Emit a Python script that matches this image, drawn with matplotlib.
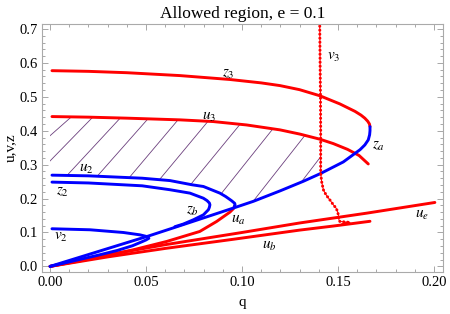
import matplotlib
matplotlib.use('Agg')
import matplotlib.pyplot as plt
import numpy as np
from matplotlib.patches import Polygon
from matplotlib.ticker import MultipleLocator

plt.rcParams['font.family'] = ['Liberation Serif', 'DejaVu Serif']
plt.rcParams['mathtext.fontset'] = 'stix'

# branches, as (q, value)
z3_q = [0.001, 0.02, 0.04, 0.0677, 0.0937, 0.11, 0.1198, 0.130, 0.1406, 0.151, 0.1589, 0.162, 0.164, 0.1655,
        0.1664, 0.1667]
z3_y = [0.577, 0.575, 0.571, 0.5625, 0.551, 0.541, 0.533, 0.521, 0.503, 0.479, 0.457, 0.446, 0.437, 0.428,
        0.420, 0.412]

u3_q = [0.001, 0.02, 0.04, 0.0677, 0.085, 0.1024, 0.1198, 0.1302, 0.1406, 0.1476, 0.155, 0.161, 0.1658]
u3_y = [0.4417, 0.440, 0.437, 0.432, 0.427, 0.417, 0.4025, 0.390, 0.375, 0.362, 0.345, 0.327, 0.302]

# blue branch from the origin up to the fold of z3 (za)
za_q = [0.0, 0.02, 0.04, 0.0515, 0.065, 0.08, 0.0955, 0.106, 0.12, 0.132, 0.141, 0.1528, 0.1615,
        0.164, 0.1658, 0.1665, 0.1667, 0.1667]
za_y = [0.0, 0.035, 0.07, 0.09, 0.115, 0.143, 0.172, 0.192, 0.223, 0.251, 0.274, 0.308, 0.344,
        0.358, 0.373, 0.388, 0.400, 0.412]

u2_q = [0.001, 0.02, 0.048, 0.0625, 0.074, 0.0799, 0.0885, 0.0915, 0.0945, 0.0962, 0.0964, 0.096]
u2_y = [0.269, 0.267, 0.260, 0.253, 0.2406, 0.2356, 0.216, 0.206, 0.194, 0.186, 0.1817, 0.176]

z2_q = [0.001, 0.02, 0.048, 0.0625, 0.0729, 0.0799, 0.0818, 0.0830, 0.0833, 0.0830, 0.0825, 0.0799, 0.0747,
        0.0694, 0.065]
z2_y = [0.2485, 0.246, 0.2376, 0.226, 0.216, 0.201, 0.194, 0.187, 0.1817, 0.174, 0.167, 0.152, 0.1375,
        0.1248, 0.117]

v2_q = [0.001, 0.0208, 0.0382, 0.0469, 0.0505, 0.0515, 0.050, 0.048, 0.043, 0.035, 0.025, 0.012, 0.0]
v2_y = [0.111, 0.108, 0.100, 0.093, 0.088, 0.083, 0.078, 0.073, 0.061, 0.047, 0.033, 0.016, 0.0]

ua_q = [0.0, 0.02, 0.0434, 0.0608, 0.078, 0.0868, 0.0937, 0.0955, 0.0962]
ua_y = [0.0, 0.021, 0.049, 0.0736, 0.103, 0.1325, 0.160, 0.170, 0.178]

ue_q = [0.0, 0.03, 0.06, 0.10, 0.13, 0.165, 0.2005]
ue_y = [0.0, 0.034, 0.064, 0.100, 0.128, 0.157, 0.1885]

ub_q = [0.0, 0.03, 0.06, 0.0955, 0.13, 0.1476, 0.1667]
ub_y = [0.0, 0.028, 0.053, 0.080, 0.107, 0.119, 0.133]

v3_q = [0.1405, 0.1407, 0.1409, 0.141, 0.141, 0.141, 0.1415, 0.1424, 0.1438, 0.1458, 0.1476, 0.149,
        0.1498, 0.1502, 0.1505, 0.151, 0.1563, 0.152]
v3_y = [0.72, 0.60, 0.50, 0.40, 0.3435, 0.275, 0.250, 0.226, 0.211, 0.196, 0.1817, 0.172,
        0.162, 0.152, 0.1375, 0.1325, 0.1296, 0.126]

# hatch lines: where each meets u3, and their slope
hatch_q = [0.0111, 0.0222, 0.0366, 0.051, 0.0667, 0.0823, 0.099, 0.1161, 0.1328, 0.1465]
hatch_k = [5.0, 5.8, 6.1, 6.4, 6.7, 6.8, 6.9, 7.1, 7.2, 7.4]

labels = ['$z_3$', '$u_3$', '$v_3$', '$z_a$', '$u_2$', '$z_2$', '$v_2$', '$z_b$', '$u_a$', '$u_b$', '$u_e$']
label_q = [0.093, 0.083, 0.148, 0.171, 0.0188, 0.0063, 0.0057, 0.0742, 0.098, 0.114, 0.1936]
label_y = [0.566, 0.441, 0.617, 0.355, 0.287, 0.217, 0.0845, 0.161, 0.1375, 0.061, 0.152]

RED = '#ff0000'
BLUE = '#0000ff'
v3_pos = 0.141

fig = plt.figure(figsize=(4.5, 3.14), dpi=100)
ax = fig.add_axes([0.0933, 0.1347, 0.891, 0.789])

# hatched allowed region: below u3, above u2 / za, left of v3
u3_q_a, u3_y_a = np.array(u3_q), np.array(u3_y)
za_q_a, za_y_a = np.array(za_q), np.array(za_y)
top = [(0.0, u3_y[0])] + [(a, b) for a, b in zip(u3_q, u3_y) if a < v3_pos]
top += [(v3_pos, np.interp(v3_pos, u3_q_a, u3_y_a)), (v3_pos, np.interp(v3_pos, za_q_a, za_y_a))]
low = [(a, b) for a, b in zip(za_q, za_y) if 0.0955 <= a < v3_pos][::-1]
low += [(a, b) for a, b in zip(u2_q[:-1], u2_y[:-1])][::-1] + [(0.0, u2_y[0])]
region = Polygon(top + low, closed=True, facecolor='none', edgecolor='none')
ax.add_patch(region)
for q0, k in zip(hatch_q, hatch_k):
    y0 = np.interp(q0, u3_q_a, u3_y_a)
    xs = np.array([q0 - 0.1, q0 + 0.05])
    ln, = ax.plot(xs, y0 + k * (xs - q0), color='#6b3f7d', lw=0.6)
    ln.set_clip_path(region)

lw = 2.1
for cq, cy in [(z3_q, z3_y), (u3_q, u3_y), (ua_q, ua_y), (ue_q, ue_y), (ub_q, ub_y)]:
    ax.plot(cq, cy, color=RED, lw=lw, solid_capstyle='round', solid_joinstyle='round')
for cq, cy in [(za_q, za_y), (u2_q, u2_y), (z2_q, z2_y), (v2_q, v2_y)]:
    ax.plot(cq, cy, color=BLUE, lw=lw, solid_capstyle='round', solid_joinstyle='round')
ax.plot(v3_q, v3_y, color=RED, lw=0.7)
ax.plot(v3_q, v3_y, color=RED, lw=2.2, dashes=(0.01, 1.3), dash_capstyle='round')

for t, a, b in zip(labels, label_q, label_y):
    ax.text(a, b, t, fontsize=11, ha='center', va='center')

ax.set_xlim(-0.0042, 0.2047)
ax.set_ylim(-0.0156, 0.7147)
ax.xaxis.set_major_locator(MultipleLocator(0.05))
ax.xaxis.set_minor_locator(MultipleLocator(0.01))
ax.yaxis.set_major_locator(MultipleLocator(0.1))
ax.yaxis.set_minor_locator(MultipleLocator(0.02))
ax.xaxis.set_major_formatter(lambda v, p: f'{v:.2f}')
ax.yaxis.set_major_formatter(lambda v, p: f'{v:.1f}')
ax.tick_params(which='both', direction='in', top=True, right=True, colors='#999999',
               labelcolor='black', labelsize=10.5, pad=3)
ax.tick_params(which='major', length=4.5, width=0.6)
ax.tick_params(which='minor', length=2.5, width=0.6)
for s in ax.spines.values():
    s.set_color('#aaaaaa')
    s.set_linewidth(0.8)

ax.set_title('Allowed region, e = 0.1', fontsize=12.5, pad=4)
ax.set_xlabel('q', fontsize=11, labelpad=5)
ax.set_ylabel('u,v,z', fontsize=11, labelpad=2)

fig.savefig('out.png', dpi=100)
